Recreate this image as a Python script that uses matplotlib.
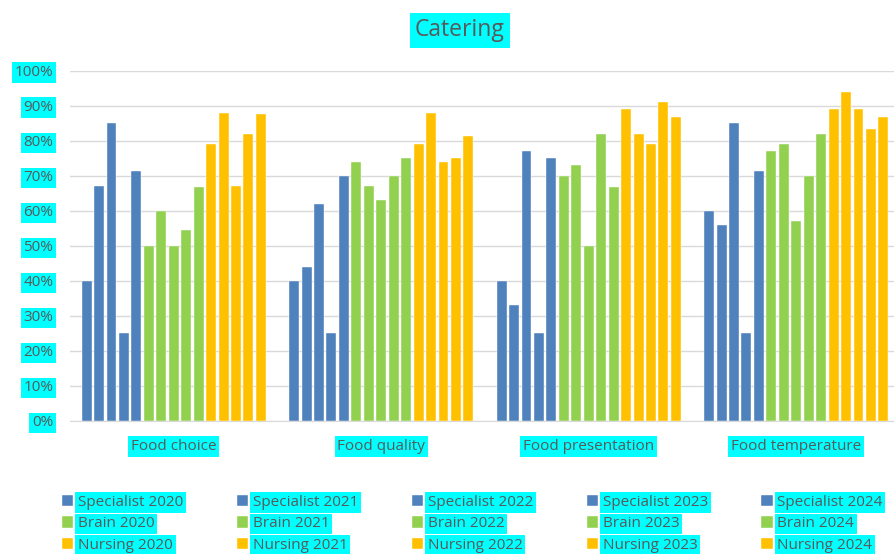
import numpy as np
import matplotlib
matplotlib.use("Agg")
from matplotlib import pyplot as plt

# ---------------------------------------------------------------------------
# Data
# ---------------------------------------------------------------------------
categories = ["Food choice", "Food quality", "Food presentation", "Food temperature"]
years = [2020, 2021, 2022, 2023, 2024]

specialist = [
    [40, 67, 85, 25, 71.4],   # Food choice
    [40, 44, 62, 25, 70],     # Food quality
    [40, 33, 77, 25, 75],     # Food presentation
    [60, 56, 85, 25, 71.4],   # Food temperature
]
brain = [
    [50, 60, 50, 54.5, 66.7],
    [74, 67, 63, 70, 75],
    [70, 73, 50, 82, 66.7],
    [77, 79, 57, 70, 82],
]
nursing = [
    [79, 88, 67, 82, 87.5],
    [79, 88, 74, 75, 81.3],
    [89, 82, 79, 91, 86.7],
    [89, 94, 89, 83.3, 86.7],
]

groups = ["Specialist", "Brain", "Nursing"]
colors = {"Specialist": "#4F81BD", "Brain": "#92D050", "Nursing": "#FFC000"}

# ---------------------------------------------------------------------------
# Plot
# ---------------------------------------------------------------------------
plt.rcParams['font.family'] = ['Open Sans', 'DejaVu Sans']
text_color = "#595959"
hl = dict(facecolor="#00FFFF", edgecolor="none", pad=2)

fig = plt.figure(figsize=(8.95, 5.54), dpi=100)
ax = fig.add_axes([70/895, (554-421)/554, 830/895, (421-70.7)/554])

series = []
for g, data in zip(groups, [specialist, brain, nursing]):
    arr = np.array(data)
    for j, yr in enumerate(years):
        series.append(("%s %d" % (g, yr), colors[g], arr[:, j] / 100.0))

x = np.arange(len(categories))
nser = len(series)
slot = 0.9 / nser
width = slot * 0.8
handles = {}
for i, (label, col, vals) in enumerate(series):
    offs = -0.45 + slot * (i + 0.5)
    b = ax.bar(x + offs, vals, width, color=col, label=label,
               edgecolor="white", linewidth=0.3, zorder=3)
    handles[label] = b

ax.set_xlim(-0.5, len(categories) - 0.5)
ax.set_ylim(0, 1.0)
ax.set_yticks(np.arange(0, 1.01, 0.1))
ax.set_yticklabels(["%d%%" % v for v in range(0, 101, 10)])
ax.set_xticks(x)
ax.set_xticklabels(categories)
ax.grid(axis="y", color="#D9D9D9", linewidth=1, zorder=0)
for s in ["top", "right", "left"]:
    ax.spines[s].set_visible(False)
ax.spines["bottom"].set_color("#D9D9D9")
ax.tick_params(axis="both", length=0, labelsize=11, labelcolor=text_color)
ax.tick_params(axis="y", pad=12)
ax.tick_params(axis="x", pad=13)
for lab in ax.get_yticklabels() + ax.get_xticklabels():
    lab.set_bbox(hl)

fig.text(460/895, 1 - 30/554, "Catering", ha="center", va="center",
         fontsize=16.5, color=text_color, bbox=dict(hl, pad=4))

# legend: columns by year, rows by group
order = []
for yr in years:
    for g in groups:
        order.append("%s %d" % (g, yr))
leg = fig.legend([handles[k] for k in order], order, ncol=5,
                 loc="upper left", bbox_to_anchor=(62/895, 1 - 495/554),
                 frameon=False, fontsize=11, handlelength=0.75,
                 handleheight=0.75, handletextpad=0.3, columnspacing=3.5,
                 labelspacing=0.42, borderaxespad=0, borderpad=0)
for t in leg.get_texts():
    t.set_color(text_color)
    t.set_bbox(hl)

fig.savefig("out.png", dpi=100)
